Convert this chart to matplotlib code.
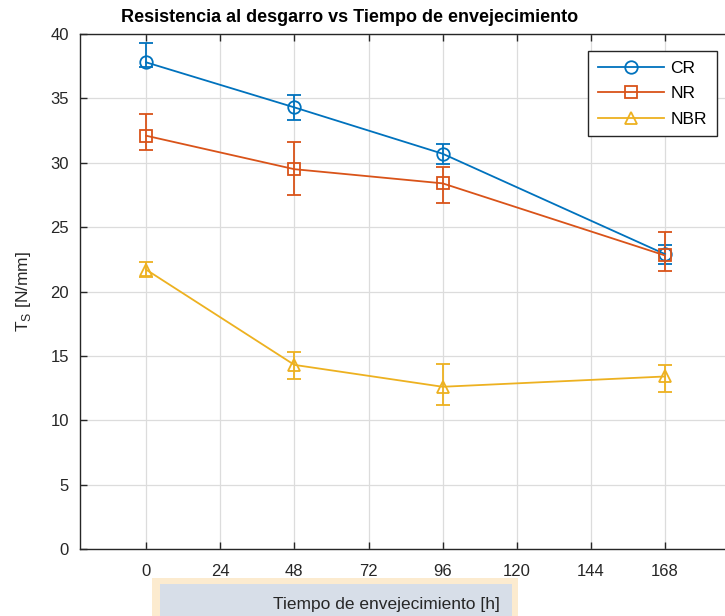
import matplotlib
matplotlib.use('Agg')
from matplotlib import pyplot as plt
from matplotlib.patches import Rectangle
from matplotlib.lines import Line2D

plt.rcParams['font.family'] = ['Liberation Sans', 'DejaVu Sans']
plt.rcParams['mathtext.fontset'] = 'custom'
plt.rcParams['mathtext.rm'] = 'Liberation Sans'

horas = [0, 48, 96, 168]
xticks = [0, 24, 48, 72, 96, 120, 144, 168]

cr = [37.8, 34.3, 30.7, 22.9]
cr_low = [0.4, 1.0, 0.8, 0.8]
cr_high = [1.5, 1.0, 0.75, 0.7]

nr = [32.1, 29.5, 28.4, 22.8]
nr_low = [1.1, 2.0, 1.5, 1.2]
nr_high = [1.7, 2.1, 1.3, 1.8]

nbr = [21.7, 14.3, 12.6, 13.4]
nbr_low = [0.6, 1.1, 1.4, 1.2]
nbr_high = [0.6, 1.0, 1.75, 0.9]

W, H = 725, 616
fig = plt.figure(figsize=(W / 100, H / 100), dpi=100)
ax = fig.add_axes([80 / W, (H - 549) / H, 653 / W, 515 / H])

# caja detras de la etiqueta del eje x
fig.patches.append(Rectangle((152 / W, 0), 366 / W, 38 / H, transform=fig.transFigure,
                             facecolor='#fcebcf', edgecolor='none', zorder=-2))
fig.patches.append(Rectangle((160 / W, 0), 352 / W, 32 / H, transform=fig.transFigure,
                             facecolor='#d7dee8', edgecolor='none', zorder=-1))

series = [
    (cr, cr_low, cr_high, '#0072BD', 'o', 'CR'),
    (nr, nr_low, nr_high, '#D95319', 's', 'NR'),
    (nbr, nbr_low, nbr_high, '#EDB120', '^', 'NBR'),
]
handles = []
for vals, lo, hi, color, mk, name in series:
    ax.errorbar(horas, vals, yerr=[lo, hi], color=color, marker=mk, markersize=9,
                markerfacecolor='none', markeredgewidth=1.3, linewidth=1.3,
                capsize=5, elinewidth=1.3, capthick=1.3)
    handles.append(Line2D([], [], color=color, marker=mk, markersize=9,
                          markerfacecolor='none', markeredgewidth=1.3,
                          linewidth=1.3, label=name))

ax.set_xlim(-21.4, 190)
ax.set_ylim(0, 40)
ax.set_xticks(xticks)
ax.set_yticks(range(0, 41, 5))
ax.grid(True, color='#dcdcdc', linewidth=0.9)
ax.set_axisbelow(True)
ax.tick_params(direction='in', top=True, right=True, length=5, width=1,
               labelsize=12, colors='#262626', labelcolor='#262626')
ax.tick_params(axis='x', pad=11)
ax.tick_params(axis='y', pad=8)
for s in ax.spines.values():
    s.set_color('#262626')
    s.set_linewidth(1)

ax.set_title('Resistencia al desgarro vs Tiempo de envejecimiento', fontsize=13,
             fontweight='bold', x=(350 - 80) / 653, pad=9)
ax.set_ylabel(r'T$_{\rm S}$ [N/mm]', fontsize=12.5, color='#262626')
ax.yaxis.set_label_coords(-0.072, 0.5)
ax.set_xlabel('Tiempo de envejecimiento [h]', fontsize=12.5, color='#262626')
ax.xaxis.set_label_coords((386 - 80) / 653, -0.093)

leg = ax.legend(handles=handles, loc='upper left',
                bbox_to_anchor=((588 - 80) / 653, (549 - 51) / 515),
                fontsize=12.5, handlelength=3.8, borderpad=0.55, labelspacing=0.6,
                handletextpad=0.4, fancybox=False, framealpha=1, borderaxespad=0)
leg.get_frame().set_edgecolor('#262626')
leg.get_frame().set_linewidth(1)

fig.savefig('out.png', dpi=100)
